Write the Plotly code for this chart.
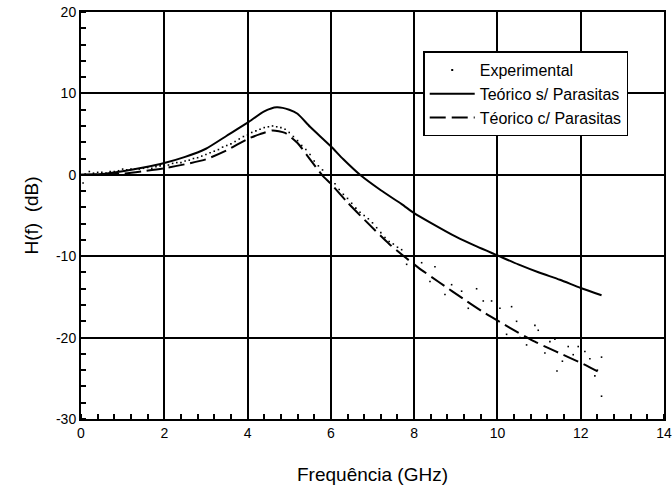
import plotly.graph_objects as go

# Teórico s/ Parasitas (solid)
freq_s = [0, 0.5, 1.0, 1.5, 2.0, 2.5, 3.0, 3.5, 4.0, 4.4, 4.7, 5.0, 5.2, 5.5, 6.0,
          6.3, 6.7, 7.2, 7.7, 8.0, 8.4, 9.0, 9.5, 10.0, 10.5, 11.0, 11.5, 12.0, 12.5]
h_s = [0, 0.1, 0.45, 0.9, 1.45, 2.2, 3.2, 4.8, 6.4, 7.8, 8.3, 8.0, 7.5, 5.9, 3.5,
       1.9, 0.0, -1.9, -3.6, -4.7, -5.9, -7.6, -8.8, -9.9, -11.0, -12.0, -12.9, -13.9, -14.8]

# Teórico c/ Parasitas (dashed)
freq_c = [0, 0.5, 1.0, 1.5, 2.0, 2.5, 3.0, 3.5, 4.0, 4.3, 4.6, 4.9, 5.2, 5.5, 5.8,
          6.0, 6.4, 6.9, 7.4, 7.8, 8.1, 8.6, 9.2, 9.7, 10.3, 10.9, 11.4, 12.0, 12.5]
h_c = [0, 0.05, 0.15, 0.45, 0.8, 1.3, 1.9, 3.0, 4.4, 5.0, 5.45, 5.15, 3.9, 1.9, -0.1,
       -1.1, -3.4, -6.0, -8.5, -10.2, -11.4, -13.2, -15.3, -17.0, -18.8, -20.5, -21.7, -23.1, -24.4]

# Experimental (dots)
freq_e = [0.05, 0.1, 0.2, 0.3, 0.4, 0.5, 0.6, 0.7, 0.8, 0.9, 1.0, 1.1, 1.2, 1.3, 1.4,
          1.5, 1.6, 1.7, 1.8, 1.9, 2.0, 2.1, 2.2, 2.3, 2.4, 2.5, 2.6, 2.7, 2.8, 2.9,
          3.0, 3.1, 3.2, 3.3, 3.4, 3.5, 3.6, 3.7, 3.8, 3.9, 4.0, 4.1, 4.2, 4.3, 4.4,
          4.5, 4.6, 4.7, 4.8, 4.9, 5.0, 5.1, 5.2, 5.3, 5.4, 5.5, 5.6, 5.7, 5.8, 5.9,
          6.0, 6.1, 6.2, 6.3, 6.4, 6.5, 6.6, 6.7, 6.8, 6.9, 7.0, 7.1, 7.2, 7.3, 7.4,
          7.5, 7.6, 7.7, 7.82, 8.18, 8.38, 8.5, 8.74, 8.9, 9.14, 9.3, 9.5, 9.66, 9.86,
          10.06, 10.22, 10.34, 10.46, 10.54, 10.7, 10.9, 10.98, 11.14, 11.26, 11.38,
          11.43, 11.56, 11.7, 11.82, 11.94, 12.1, 12.22, 12.34, 12.4, 12.5, 12.5]
h_e = [-1.0, 0.1, 0.4, 0.2, 0.3, 0.3, 0.2, 0.4, 0.4, 0.5, 0.7, 0.6, 0.7, 0.7, 0.7,
       0.8, 0.9, 0.8, 1.0, 1.1, 1.1, 1.2, 1.4, 1.5, 1.5, 1.7, 1.8, 2.0, 2.1, 2.3,
       2.5, 2.7, 2.9, 3.1, 3.4, 3.6, 3.8, 4.1, 4.4, 4.7, 4.9, 5.2, 5.4, 5.6, 5.8,
       5.9, 6.0, 5.9, 5.8, 5.6, 5.2, 4.7, 4.2, 3.6, 3.1, 2.5, 1.7, 1.1, 0.6, 0.0,
       -0.5, -1.1, -1.8, -2.4, -2.9, -3.5, -4.1, -4.6, -5.0, -5.4, -5.9, -6.5, -7.1, -7.7, -8.2,
       -8.5, -8.9, -9.2, -11.0, -10.8, -13.1, -11.3, -14.7, -13.5, -14.3, -16.4, -14.0, -15.5, -15.5,
       -16.4, -19.6, -16.2, -18.0, -20.0, -20.9, -18.5, -19.1, -21.9, -20.5, -20.2,
       -24.1, -22.9, -21.1, -22.1, -21.1, -21.7, -22.6, -24.7, -24.0, -22.4, -27.2]

x_ticks = [0, 2, 4, 6, 8, 10, 12, 14]
x_labels = ["0", "2", "4", "6", "8", "10", "12", "14"]
y_ticks = [-30, -20, -10, 0, 10, 20]
y_labels = ["-30", "-20", "-10", "0", "10", "20"]

fig = go.Figure()
fig.add_trace(go.Scatter(x=freq_e, y=h_e, mode="markers", name="Experimental",
                         marker=dict(symbol="square", size=1.6, color="black",
                                     line=dict(width=0))))
fig.add_trace(go.Scatter(x=freq_s, y=h_s, mode="lines", name="Teórico s/ Parasitas",
                         line=dict(color="black", width=2, shape="spline", smoothing=0.6)))
fig.add_trace(go.Scatter(x=freq_c, y=h_c, mode="lines", name="Téorico c/ Parasitas",
                         line=dict(color="black", width=2, dash="16px,6px",
                                   shape="spline", smoothing=0.6)))

axis_common = dict(showline=True, linecolor="black", linewidth=2, mirror=True,
                   showgrid=True, gridcolor="black", gridwidth=2, automargin=False,
                   zeroline=False, ticks="", tickfont=dict(size=14, color="black"))

fig.update_xaxes(range=[0, 14], tickvals=x_ticks, ticktext=x_labels, **axis_common,
                 minor=dict(ticks="inside", dtick=0.4, tick0=0, ticklen=5,
                            tickcolor="black", tickwidth=2, showgrid=False),
                 title=dict(text="Frequência (GHz)", font=dict(size=19, color="black"),
                            standoff=28))
fig.update_yaxes(range=[-30, 20], tickvals=y_ticks, ticktext=y_labels, **axis_common,
                 minor=dict(ticks="inside", dtick=2, tick0=0, ticklen=5,
                            tickcolor="black", tickwidth=2, showgrid=False),
                 title=dict(text="H(f)  (dB)", font=dict(size=19, color="black"),
                            standoff=12))

fig.update_layout(
    width=672, height=489,
    margin=dict(l=81, r=8, t=12, b=70),
    plot_bgcolor="white", paper_bgcolor="white",
    font=dict(family="Liberation Sans, Arial, sans-serif", color="black", size=14),
    legend=dict(x=0.587, y=0.903, xanchor="left", yanchor="top",
                bgcolor="white", bordercolor="black", borderwidth=1.5,
                itemwidth=45, font=dict(size=16, color="black")),
    showlegend=True,
)

fig.write_html("out.html", config={"displayModeBar": False},
               post_script="document.body.style.margin='0px';")
